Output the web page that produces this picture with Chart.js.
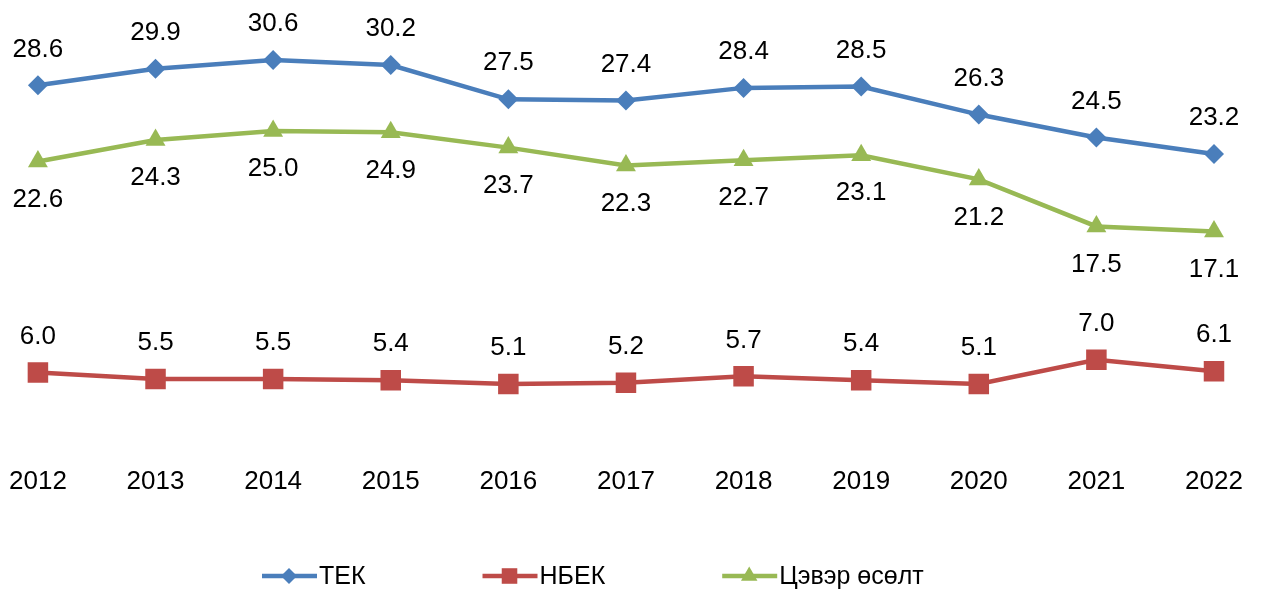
<!DOCTYPE html>
<html>
<head>
<meta charset="utf-8">
<script src="https://cdn.jsdelivr.net/npm/chart.js@4"></script>
<style>
    html, body { margin: 0; padding: 0; background: #fff; }
    #wrap { width: 1272px; height: 590px; }
</style>
</head>
<body>
<div id="wrap"><canvas id="chart" width="1272" height="590"></canvas></div>
<script>
const years = ["2012", "2013", "2014", "2015", "2016", "2017", "2018", "2019", "2020", "2021", "2022"];
const tek = [28.6, 29.9, 30.6, 30.2, 27.5, 27.4, 28.4, 28.5, 26.3, 24.5, 23.2];
const nbek = [6.0, 5.5, 5.5, 5.4, 5.1, 5.2, 5.7, 5.4, 5.1, 7.0, 6.1];
const tsever = [22.6, 24.3, 25.0, 24.9, 23.7, 22.3, 22.7, 23.1, 21.2, 17.5, 17.1];
const seriesNames = ["ТЕК", "НБЕК", "Цэвэр өсөлт"];

const FONT = "'Liberation Sans', Arial, sans-serif";

// value labels: above for ТЕК and НБЕК, below for the green line
const valueLabels = {
    id: "valueLabels",
    afterDatasetsDraw(chart) {
        const ctx = chart.ctx;
        ctx.save();
        ctx.font = "26px " + FONT;
        ctx.fillStyle = "#000";
        ctx.textAlign = "center";
        ctx.textBaseline = "middle";
        chart.data.datasets.forEach((ds, i) => {
            const meta = chart.getDatasetMeta(i);
            const below = ds.labelPos === "below";
            meta.data.forEach((pt, j) => {
                const y = below ? pt.y + 38 : pt.y - 36;
                ctx.fillText(ds.data[j].toFixed(1), pt.x, y);
            });
        });
        ctx.restore();
    },
};

// Excel-style legend: short line with marker, then text
const lineLegend = {
    id: "lineLegend",
    afterDraw(chart) {
        const ctx = chart.ctx;
        const y = 576;
        let x = 262;
        ctx.save();
        ctx.font = "25px " + FONT;
        ctx.textBaseline = "middle";
        chart.data.datasets.forEach((ds) => {
            ctx.strokeStyle = ds.borderColor;
            ctx.lineWidth = 4.5;
            ctx.beginPath();
            ctx.moveTo(x, y);
            ctx.lineTo(x + 55, y);
            ctx.stroke();
            ctx.fillStyle = ds.borderColor;
            Chart.helpers.drawPoint(ctx, {
                pointStyle: ds.pointStyle,
                radius: ds.legendRadius,
                rotation: 0,
                borderWidth: 0,
            }, x + 27, y);
            ctx.fillStyle = "#000";
            ctx.fillText(ds.label, x + 57, y + 1);
            x += 57 + ctx.measureText(ds.label).width + 117;
        });
        ctx.restore();
    },
};

const ctx = document.getElementById("chart").getContext("2d");

new Chart(ctx, {
    type: "line",
    data: {
        labels: years,
        datasets: [
            {
                label: seriesNames[0],
                data: tek,
                borderColor: "#4A7EBB",
                backgroundColor: "#4A7EBB",
                pointStyle: "rectRot",
                pointRadius: 10,
                legendRadius: 8,
                labelPos: "above",
            },
            {
                label: seriesNames[1],
                data: nbek,
                borderColor: "#BE4B48",
                backgroundColor: "#BE4B48",
                pointStyle: "rect",
                pointRadius: 14.5,
                legendRadius: 11,
                labelPos: "above",
            },
            {
                label: seriesNames[2],
                data: tsever,
                borderColor: "#98B954",
                backgroundColor: "#98B954",
                pointStyle: "triangle",
                pointRadius: 11.5,
                legendRadius: 9.5,
                labelPos: "below",
            },
        ],
    },
    options: {
        responsive: false,
        animation: false,
        events: [],
        elements: {
            line: { borderWidth: 4.5, tension: 0 },
            point: { borderWidth: 0, hoverRadius: 0 },
        },
        layout: {
            autoPadding: false,
            padding: { left: 31, right: 58, top: 4, bottom: 84 },
        },
        scales: {
            x: {
                offset: false,
                grid: { display: false },
                border: { display: false },
                ticks: {
                    color: "#000",
                    font: { family: FONT, size: 26 },
                    padding: 9,
                    maxRotation: 0,
                    autoSkip: false,
                },
            },
            y: {
                display: false,
                min: 0,
                max: 35,
            },
        },
        plugins: {
            legend: { display: false },
            tooltip: { enabled: false },
        },
    },
    plugins: [valueLabels, lineLegend],
});
</script>
</body>
</html>
